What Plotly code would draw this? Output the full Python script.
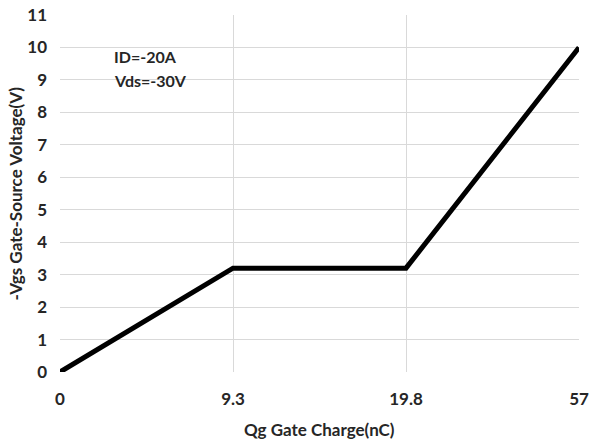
import plotly.graph_objects as go

# Data
qg_labels = ["0", "9.3", "19.8", "57"]          # Qg gate charge (nC), category ticks
vgs_values = [0.0, 3.2, 3.2, 10.0]              # -Vgs (V)
conditions = ["ID=-20A", "Vds=-30V"]
cond_y = [9.72, 8.98]
y_ticks = list(range(0, 12))
x_title = "Qg Gate Charge(nC)"
y_title = "-Vgs Gate-Source Voltage(V)"

FONT = "Lato, 'Open Sans', sans-serif"
TXT = "#262626"
GRID = "#d9d9d9"

fig = go.Figure()
fig.add_trace(go.Scatter(
    x=qg_labels, y=vgs_values, mode="lines",
    line=dict(color="black", width=5),
    cliponaxis=False, showlegend=False, hoverinfo="skip",
))

for t, yy in zip(conditions, cond_y):
    fig.add_annotation(x=0.30, y=yy, xref="x", yref="y", text="<b>%s</b>" % t,
                       showarrow=False, xanchor="left", yanchor="middle",
                       font=dict(family=FONT, size=16, color=TXT))

# axis titles
fig.add_annotation(x=0.5, y=0, xref="paper", yref="paper", yshift=-57,
                   text="<b>%s</b>" % x_title, showarrow=False,
                   xanchor="center", yanchor="middle",
                   font=dict(family=FONT, size=17, color=TXT))
fig.add_annotation(x=0, y=0.5, xref="paper", yref="paper", xshift=-45,
                   text="<b>%s</b>" % y_title, showarrow=False, textangle=-90,
                   xanchor="center", yanchor="middle",
                   font=dict(family=FONT, size=17, color=TXT))

fig.update_layout(
    width=591, height=441,
    margin=dict(l=60, r=12, t=15, b=69),
    paper_bgcolor="white", plot_bgcolor="white",
    font=dict(family=FONT, size=16, color=TXT),
    xaxis=dict(
        type="category", categoryorder="array", categoryarray=qg_labels,
        range=[0, 3], showgrid=True, gridcolor=GRID, gridwidth=1,
        zeroline=False, showline=False, automargin=False,
        tickfont=dict(family=FONT, size=17, color=TXT, weight="bold"),
        ticklabelstandoff=15,
    ),
    yaxis=dict(
        range=[0, 11], tickvals=y_ticks, showgrid=True, gridcolor=GRID, gridwidth=1,
        zeroline=False, showline=False, automargin=False,
        tickfont=dict(family=FONT, size=17, color=TXT, weight="bold"),
        ticklabelstandoff=12,
    ),
)

fig.write_html("out.html", config={"displayModeBar": False},
               post_script="document.body.style.margin='0';document.body.style.overflow='hidden';")
